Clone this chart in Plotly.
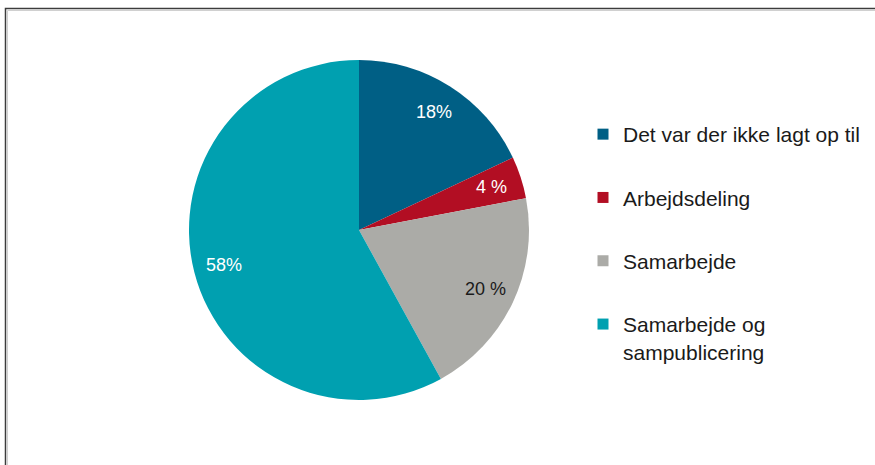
import math
import plotly.graph_objects as go

# Data
categories = ["Det var der ikke lagt op til", "Arbejdsdeling", "Samarbejde",
              "Samarbejde og<br>sampublicering"]
shares = [18, 4, 20, 58]
slice_labels = ["18%", "4 %", "20 %", "58%"]

colors = ["#005F85", "#B20E23", "#ABABA7", "#00A0B0"]
label_colors = ["white", "white", "#1a1a1a", "white"]

W, H = 875, 465
FONT = "Liberation Sans, Arial"

# pie placement in pixels (center and radius)
cx, cy, r = 359, 230, 170

fig = go.Figure()

fig.add_trace(go.Pie(
    labels=categories,
    values=shares,
    textinfo="none",
    marker=dict(colors=colors, line=dict(width=0)),
    sort=False,
    direction="clockwise",
    rotation=0,
    showlegend=False,
    domain=dict(x=[(cx - r) / W, (cx + r) / W], y=[1 - (cy + r) / H, 1 - (cy - r) / H]),
    hoverinfo="label+percent",
))

# data labels placed at ~0.82 of the radius on each slice's mid angle, like Excel does
annotations = []
total = sum(shares)
cum = 0
for val, txt, col in zip(shares, slice_labels, label_colors):
    mid = (cum + val / 2) / total * 2 * math.pi
    cum += val
    px = cx + 0.82 * r * math.sin(mid)
    py = cy - 0.82 * r * math.cos(mid)
    annotations.append(dict(
        x=px / W, y=1 - py / H, xref="paper", yref="paper",
        text=txt, showarrow=False,
        font=dict(size=18, color=col, family=FONT),
        xanchor="center", yanchor="middle",
    ))

# Legend entries: one dummy trace per category so the entries can be spaced out
for name, color in zip(categories, colors):
    fig.add_trace(go.Scatter(
        x=[None], y=[None],
        mode="markers",
        marker=dict(symbol="square", size=11, color=color),
        name=name,
        legendgroup=name,
        showlegend=True,
        hoverinfo="skip",
    ))

fig.update_layout(
    width=W,
    height=H,
    margin=dict(l=0, r=0, t=0, b=0),
    paper_bgcolor="white",
    plot_bgcolor="white",
    font=dict(family=FONT, size=21, color="#1a1a1a"),
    xaxis=dict(visible=False),
    yaxis=dict(visible=False),
    annotations=annotations,
    legend=dict(
        x=583 / W,
        y=1 - 114 / H,
        xanchor="left",
        yanchor="top",
        tracegroupgap=33,
        valign="top",
        bgcolor="rgba(0,0,0,0)",
        font=dict(size=21),
    ),
    shapes=[
        dict(
            type="rect",
            xref="paper", yref="paper",
            x0=5.5 / W, x1=1 + 10 / W,
            y0=-10 / H, y1=1 - 8.5 / H,
            line=dict(color="#3c3c3c", width=1.5),
        ),
        dict(
            type="rect",
            xref="paper", yref="paper",
            x0=7.5 / W, x1=1 + 10 / W,
            y0=-10 / H, y1=1 - 10.5 / H,
            line=dict(color="#d0d0d0", width=1),
        ),
    ],
)

fig.write_html("out.html", config={"displayModeBar": False},
               post_script="document.body.style.margin='0';")
